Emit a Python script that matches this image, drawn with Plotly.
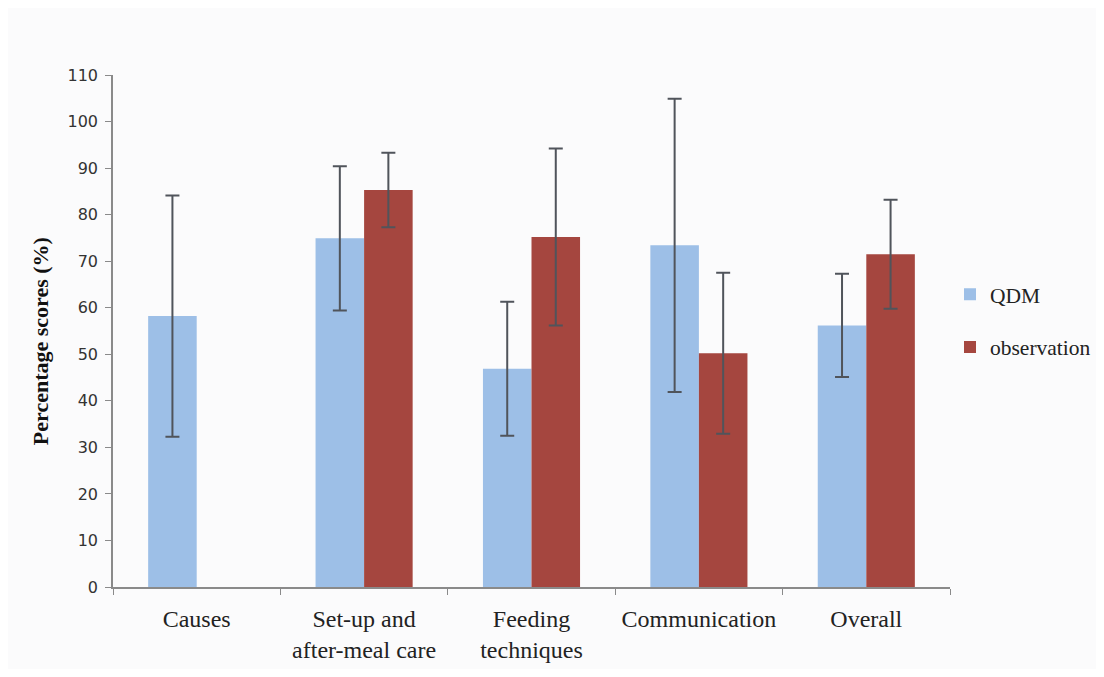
import plotly.graph_objects as go

categories = ["Causes", "Set-up and<br>after-meal care", "Feeding<br>techniques", "Communication", "Overall"]
qdm_values = [58.2, 74.9, 46.9, 73.4, 56.2]
qdm_errors = [25.9, 15.5, 14.4, 31.5, 11.1]
obs_values = [None, 85.3, 75.2, 50.2, 71.5]
obs_errors = [None, 8.0, 19.0, 17.3, 11.7]
y_ticks = list(range(0, 111, 10))
y_title = "Percentage scores (%)"

BG = "#fbfbfc"

fig = go.Figure()
fig.add_trace(go.Bar(
    name="QDM", x=categories, y=qdm_values,
    marker=dict(color="#9dbfe7", line=dict(width=0)),
    error_y=dict(type="data", array=qdm_errors, visible=True, color="#50545b", thickness=2, width=7),
    legendgroup="a",
))
fig.add_trace(go.Bar(
    name="observation", x=categories, y=obs_values,
    marker=dict(color="#a5463f", line=dict(width=0)),
    error_y=dict(type="data", array=obs_errors, visible=True, color="#50545b", thickness=2, width=7),
    legendgroup="b",
))

fig.update_layout(
    width=1088, height=661,
    paper_bgcolor=BG, plot_bgcolor=BG,
    margin=dict(l=105, r=146, t=67, b=82, autoexpand=False),
    barmode="group", bargap=0.42, bargroupgap=0,
    showlegend=True,
    legend=dict(
        x=1.0, y=0.612, xanchor="left", yanchor="top",
        font=dict(family="Liberation Serif", size=21.5, color="#222"),
        bgcolor="rgba(0,0,0,0)", traceorder="grouped", tracegroupgap=22,
        itemwidth=30,
    ),
    font=dict(family="DejaVu Sans", color="#333"),
    annotations=[dict(
        text="<b>" + y_title + "</b>", textangle=-90,
        xref="paper", yref="paper", x=-0.087, y=0.5, xanchor="center", yanchor="middle",
        yshift=-10, showarrow=False,
        font=dict(family="Liberation Serif", size=22, color="#111"),
    )],
)
fig.update_xaxes(
    showline=True, linecolor="#8a8a8a", linewidth=1.5,
    ticks="outside", tickson="boundaries", ticklen=6, tickcolor="#8a8a8a",
    tickfont=dict(family="Liberation Serif", size=24, color="#222"),
    showgrid=False, ticklabelstandoff=9,
)
fig.update_yaxes(
    range=[0, 110], tickvals=y_ticks, showline=True, linecolor="#8a8a8a", linewidth=1.5,
    ticks="outside", ticklen=6, tickcolor="#8a8a8a",
    tickfont=dict(family="DejaVu Sans", size=16, color="#333"),
    showgrid=False, zeroline=False, ticklabelstandoff=4,
)

fig.write_html("out.html")
